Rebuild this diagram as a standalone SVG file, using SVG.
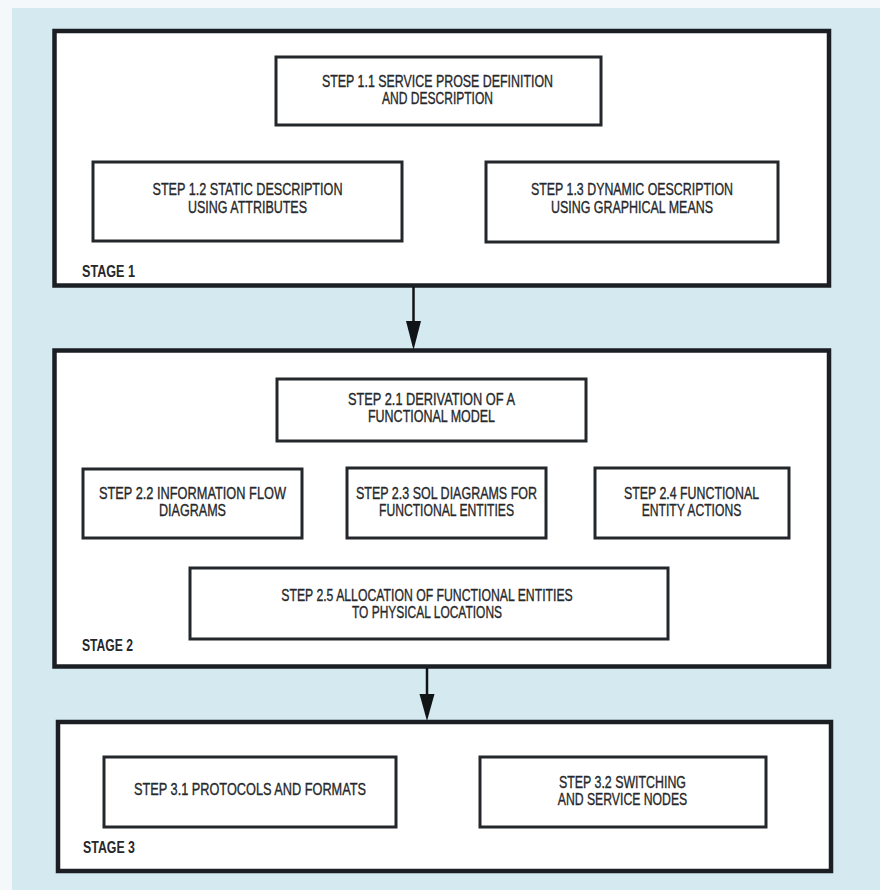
<svg xmlns="http://www.w3.org/2000/svg" width="880" height="890" viewBox="0 0 880 890">
  <style>
    .stage { fill: #ffffff; stroke: #1b1f24; stroke-width: 4.5; }
    .step { fill: #ffffff; stroke: #23262a; stroke-width: 3; }
    .t { font-family: "Liberation Sans", Arial, sans-serif; font-size: 16.5px; fill: #26282b; stroke: #26282b; stroke-width: 0.35; text-anchor: middle; }
    .lbl { font-family: "Liberation Sans", Arial, sans-serif; font-size: 17px; font-weight: bold; fill: #26282b; }
    .wire { stroke: #111417; stroke-width: 2.5; fill: none; }
    .head { fill: #111417; }
  </style>

  <!-- page -->
  <rect x="0" y="0" width="880" height="890" fill="#f4f8fa"/>
  <rect x="12" y="8" width="868" height="882" fill="#d5e9f0"/>

  <!-- stage containers -->
  <g id="stage1">
    <rect class="stage" x="54.5" y="31" width="774.5" height="254.5"/>
    <text class="lbl" x="82" y="277" textLength="53" lengthAdjust="spacingAndGlyphs">STAGE 1</text>
  </g>
  <g id="stage2">
    <rect class="stage" x="54.5" y="350.5" width="774.5" height="316"/>
    <text class="lbl" x="82" y="651" textLength="51" lengthAdjust="spacingAndGlyphs">STAGE 2</text>
  </g>
  <g id="stage3">
    <rect class="stage" x="58" y="722" width="773" height="149"/>
    <text class="lbl" x="83" y="853" textLength="52" lengthAdjust="spacingAndGlyphs">STAGE 3</text>
  </g>

  <!-- stage 1 steps -->
  <g id="step1-1">
    <rect class="step" x="276" y="57" width="325" height="68"/>
    <text class="t" x="437.5" y="87" textLength="231" lengthAdjust="spacingAndGlyphs">STEP 1.1 SERVICE PROSE DEFINITION</text>
    <text class="t" x="437.5" y="104" textLength="111" lengthAdjust="spacingAndGlyphs">AND DESCRIPTION</text>
  </g>
  <g id="step1-2">
    <rect class="step" x="93" y="162" width="309" height="79"/>
    <text class="t" x="247.5" y="195" textLength="190" lengthAdjust="spacingAndGlyphs">STEP 1.2 STATIC DESCRIPTION</text>
    <text class="t" x="247.5" y="213" textLength="119" lengthAdjust="spacingAndGlyphs">USING ATTRIBUTES</text>
  </g>
  <g id="step1-3">
    <rect class="step" x="486" y="162" width="292" height="80"/>
    <text class="t" x="632" y="195" textLength="202" lengthAdjust="spacingAndGlyphs">STEP 1.3 DYNAMIC OESCRIPTION</text>
    <text class="t" x="632" y="213" textLength="162" lengthAdjust="spacingAndGlyphs">USING GRAPHICAL MEANS</text>
  </g>

  <!-- stage 2 steps -->
  <g id="step2-1">
    <rect class="step" x="277" y="379" width="309" height="62"/>
    <text class="t" x="431.5" y="405" textLength="167" lengthAdjust="spacingAndGlyphs">STEP 2.1 DERIVATION OF A</text>
    <text class="t" x="431.5" y="422" textLength="127" lengthAdjust="spacingAndGlyphs">FUNCTIONAL MODEL</text>
  </g>
  <g id="step2-2">
    <rect class="step" x="83" y="469" width="219" height="69"/>
    <text class="t" x="192.5" y="499" textLength="187" lengthAdjust="spacingAndGlyphs">STEP 2.2 INFORMATION FLOW</text>
    <text class="t" x="192.5" y="516" textLength="67" lengthAdjust="spacingAndGlyphs">DIAGRAMS</text>
  </g>
  <g id="step2-3">
    <rect class="step" x="347" y="468" width="199" height="70"/>
    <text class="t" x="446.5" y="499" textLength="181" lengthAdjust="spacingAndGlyphs">STEP 2.3 SOL DIAGRAMS FOR</text>
    <text class="t" x="446.5" y="516" textLength="135" lengthAdjust="spacingAndGlyphs">FUNCTIONAL ENTITIES</text>
  </g>
  <g id="step2-4">
    <rect class="step" x="595" y="468" width="194" height="70"/>
    <text class="t" x="691.5" y="499" textLength="135" lengthAdjust="spacingAndGlyphs">STEP 2.4 FUNCTIONAL</text>
    <text class="t" x="691.5" y="516" textLength="99.5" lengthAdjust="spacingAndGlyphs">ENTITY ACTIONS</text>
  </g>
  <g id="step2-5">
    <rect class="step" x="190" y="568" width="478" height="71"/>
    <text class="t" x="427" y="601" textLength="291.5" lengthAdjust="spacingAndGlyphs">STEP 2.5 ALLOCATION OF FUNCTIONAL ENTITIES</text>
    <text class="t" x="427" y="618" textLength="150" lengthAdjust="spacingAndGlyphs">TO PHYSICAL LOCATIONS</text>
  </g>

  <!-- stage 3 steps -->
  <g id="step3-1">
    <rect class="step" x="104" y="757" width="292" height="70"/>
    <text class="t" x="250" y="795" textLength="232" lengthAdjust="spacingAndGlyphs">STEP 3.1 PROTOCOLS AND FORMATS</text>
  </g>
  <g id="step3-2">
    <rect class="step" x="480" y="757" width="286" height="70"/>
    <text class="t" x="622.5" y="788" textLength="127" lengthAdjust="spacingAndGlyphs">STEP 3.2 SWITCHING</text>
    <text class="t" x="622.5" y="805" textLength="129.5" lengthAdjust="spacingAndGlyphs">AND SERVICE NODES</text>
  </g>

  <!-- connectors between stages -->
  <g id="connectors">
    <line class="wire" x1="413.5" y1="287" x2="413.5" y2="324"/>
    <polygon class="head" points="406,321 421,321 413.5,350"/>
    <line class="wire" x1="427" y1="668" x2="427" y2="697"/>
    <polygon class="head" points="419.5,694 434.5,694 427,721"/>
  </g>
</svg>
